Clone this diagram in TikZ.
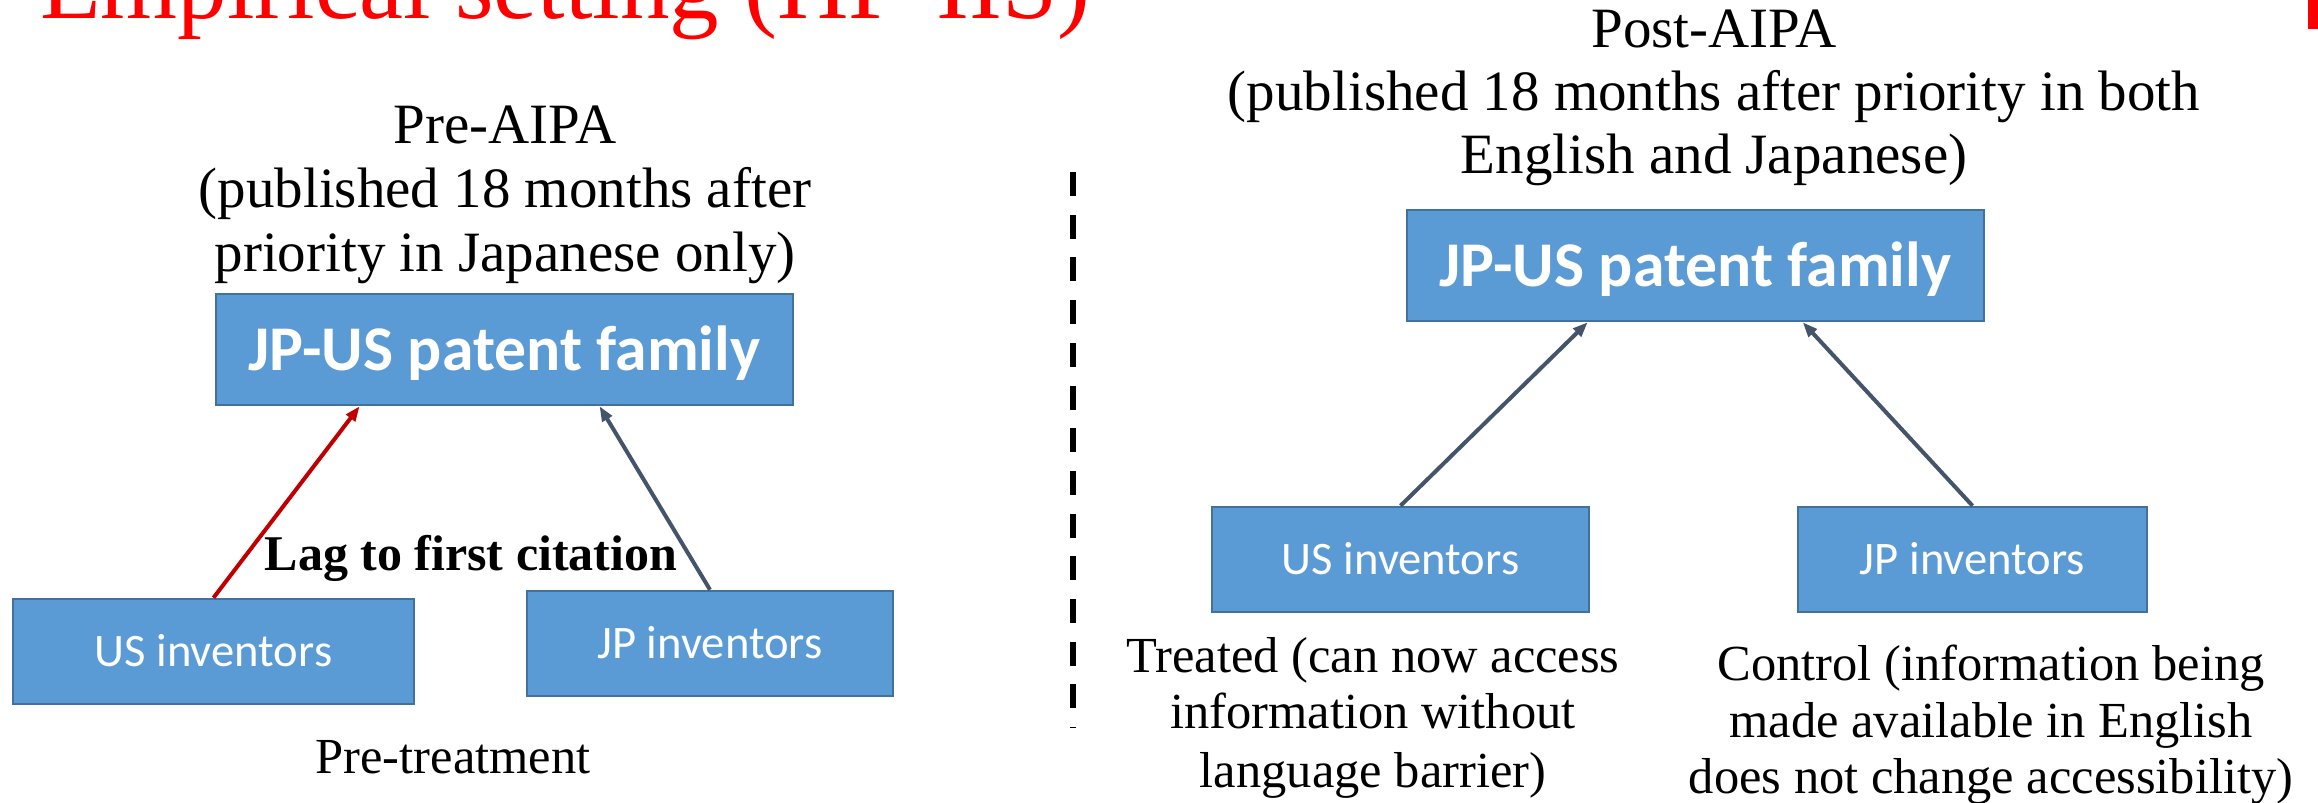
\documentclass[tikz,border=0pt]{standalone}
\usepackage{fontspec}
\setmainfont{Liberation Serif}
\newfontfamily\boxfont{Carlito}
\usetikzlibrary{arrows.meta,calc}
\definecolor{boxblue}{HTML}{5B9BD5}
\definecolor{boxline}{HTML}{41719C}
\definecolor{arrred}{HTML}{C00000}
\definecolor{arrgray}{HTML}{44546A}
\definecolor{titlered}{HTML}{FF0000}
\begin{document}
\begin{tikzpicture}[x=1pt,y=-1pt,
  box/.style={draw=boxline, line width=2.5pt, fill=boxblue, text=white,
    inner sep=0pt, text height=30pt, text depth=0pt,
    font=\boxfont\fontsize{46.6}{50}\selectfont},
  bigbox/.style={box, text height=41pt,
    font=\boxfont\bfseries\fontsize{63.7}{70}\selectfont},
  headtxt/.style={anchor=base, inner sep=0pt, font=\fontsize{57}{64}\selectfont},
  subtxt/.style={anchor=base, inner sep=0pt, font=\fontsize{50.5}{57}\selectfont},
  lagtxt/.style={anchor=base, inner sep=0pt, font=\bfseries\fontsize{50}{57}\selectfont},
  titletxt/.style={anchor=base west, inner sep=0pt, text=titlered, font=\fontsize{99}{110}\selectfont},
  conn/.style={line width=4pt, -{Triangle[length=15pt,width=11pt]}},
  divider/.style={line width=6pt, dash pattern=on 24pt off 18.7pt}
]
\useasboundingbox (0,0) rectangle (2318,803);

% title and corner mark
\node[titletxt] (title) at (40,18) {Empirical setting (HP-IIS)};
\fill[titlered] (2308,0) rectangle (2318,29);

% left header
\node[headtxt] (preA) at (505,143) {Pre-AIPA};
\node[headtxt] (preB) at (505,207) {(published 18 months after};
\node[headtxt] (preC) at (505,271) {priority in Japanese only)};

% right header
\node[headtxt] (postA) at (1714,47) {Post-AIPA};
\node[headtxt] (postB) at (1714,110) {(published 18 months after priority in both};
\node[headtxt] (postC) at (1714,173) {English and Japanese)};

% boxes
\node[bigbox, minimum width=577pt, minimum height=111pt] (famL) at (504.5,349.5) {JP-US patent family};
\node[bigbox, minimum width=577pt, minimum height=111pt] (famR) at (1695.5,265.5) {JP-US patent family};
\node[box, minimum width=401pt, minimum height=105pt] (usL) at (213.5,651.5) {US inventors};
\node[box, minimum width=366pt, minimum height=105pt] (jpL) at (710,643.5) {JP inventors};
\node[box, minimum width=377pt, minimum height=105pt] (usR) at (1400.5,559.5) {US inventors};
\node[box, minimum width=349pt, minimum height=105pt] (jpR) at (1972.5,559.5) {JP inventors};

% connectors
\draw[conn, draw=arrred, fill=arrred] (usL.north) -- ($(famL.south west)!0.25!(famL.south east)$);
\draw[conn, draw=arrgray, fill=arrgray] (jpL.north) -- ($(famL.south west)!0.664!(famL.south east)$);
\draw[conn, draw=arrgray, fill=arrgray] (usR.north) -- ($(famR.south west)!0.314!(famR.south east)$);
\draw[conn, draw=arrgray, fill=arrgray] (jpR.north) -- ($(famR.south west)!0.685!(famR.south east)$);

% labels
\node[lagtxt] (lag) at (471,570) {Lag to first citation};
\node[subtxt] (pret) at (453,773) {Pre-treatment};

\node[subtxt] (trA) at (1373,672) {Treated (can now access};
\node[subtxt] (trB) at (1373,728) {information without};
\node[subtxt] (trC) at (1373,787) {language barrier)};

\node[subtxt] (coA) at (1991,680) {Control (information being};
\node[subtxt] (coB) at (1991,737) {made available in English};
\node[subtxt] (coC) at (1991,793) {does not change accessibility)};

% divider
\draw[divider] (1073,172) -- (1073,728);
\end{tikzpicture}
\end{document}
